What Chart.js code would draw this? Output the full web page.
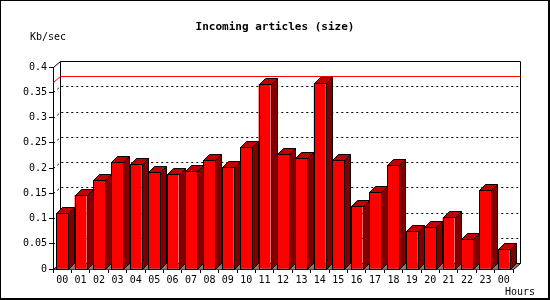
<!DOCTYPE html>
<html>
<head>
<meta charset="utf-8">
<script src="https://cdn.jsdelivr.net/npm/chart.js@4/dist/chart.umd.min.js"></script>
<style>
  body { margin: 0; background: #fff; }
  canvas { display: block; }
</style>
</head>
<body>
<canvas id="myChart" width="550" height="300"></canvas>
<script>
var ctx = document.getElementById('myChart').getContext('2d');

// data
var hours = ['00','01','02','03','04','05','06','07','08','09','10','11',
             '12','13','14','15','16','17','18','19','20','21','22','23','00'];
var kbPerSec = [0.110, 0.146, 0.176, 0.211, 0.208, 0.193, 0.188, 0.195, 0.216,
                0.201, 0.241, 0.366, 0.227, 0.219, 0.368, 0.215, 0.125, 0.152,
                0.205, 0.075, 0.083, 0.102, 0.059, 0.156, 0.039];
var maxLine = 0.37; // the red line along the back wall
var yMin = 0, yMax = 0.4, yStep = 0.05;

var titleText = 'Incoming articles (size)';
var yUnit = 'Kb/sec';
var xUnit = 'Hours';

var DX = 7, DY = 6;   // depth of the back wall
var BX = 6, BY = 6;   // depth of each bar
var mono = "'DejaVu Sans Mono', 'Liberation Mono', monospace";

function px(v) { return Math.round(v) + 0.5; }

var box3d = {
    id: 'box3d',
    beforeDatasetsDraw: function (chart) {
        var c = chart.ctx, a = chart.chartArea, y = chart.scales.y;
        var L = px(a.left), R = px(a.right), T = px(a.top), B = px(a.bottom);
        c.save();
        // floor
        c.fillStyle = '#808080';
        c.beginPath();
        c.moveTo(L, B); c.lineTo(L + DX, B - DY); c.lineTo(R + DX, B - DY); c.lineTo(R, B);
        c.closePath(); c.fill();

        c.strokeStyle = '#000';
        c.lineWidth = 1;
        // back wall + edges
        c.beginPath();
        c.moveTo(L + DX, B - DY); c.lineTo(L + DX, T - DY); c.lineTo(R + DX, T - DY);
        c.lineTo(R + DX, B - DY); c.lineTo(L + DX, B - DY);
        c.moveTo(L, T); c.lineTo(L + DX, T - DY);
        c.moveTo(L, B); c.lineTo(L + DX, B - DY);
        c.moveTo(R, B); c.lineTo(R + DX, B - DY);
        c.stroke();

        // dotted grid on the back wall
        c.setLineDash([2, 3]);
        y.ticks.forEach(function (t) {
            if (t.value <= yMin || t.value >= yMax) return;
            var p = px(y.getPixelForValue(t.value));
            c.beginPath();
            c.moveTo(L, p); c.lineTo(L + DX, p - DY); c.lineTo(R + DX, p - DY);
            c.stroke();
        });
        c.setLineDash([]);

        // max line
        var m = px(y.getPixelForValue(maxLine));
        c.strokeStyle = '#ff0000';
        c.beginPath();
        c.moveTo(L, m); c.lineTo(L + DX, m - DY); c.lineTo(R + DX, m - DY);
        c.stroke();
        c.restore();
    },
    afterDatasetsDraw: function (chart) {
        var c = chart.ctx;
        c.save();
        c.strokeStyle = '#000';
        c.lineWidth = 1;
        chart.getDatasetMeta(0).data.forEach(function (bar) {
            var l = px(bar.x - bar.width / 2), r = px(bar.x + bar.width / 2);
            var t = px(bar.y), b = px(bar.base);
            // side
            c.fillStyle = '#800000';
            c.beginPath();
            c.moveTo(r, t); c.lineTo(r + BX, t - BY); c.lineTo(r + BX, b - BY); c.lineTo(r, b);
            c.closePath(); c.fill(); c.stroke();
            // top
            c.fillStyle = '#c00000';
            c.beginPath();
            c.moveTo(l, t); c.lineTo(l + BX, t - BY); c.lineTo(r + BX, t - BY); c.lineTo(r, t);
            c.closePath(); c.fill(); c.stroke();
            // front outline
            c.strokeRect(l, t, r - l, b - t);
        });
        c.restore();
    },
    afterDraw: function (chart) {
        var c = chart.ctx, a = chart.chartArea;
        c.save();
        c.fillStyle = '#000';
        c.textBaseline = 'middle';
        c.font = 'bold 11px ' + mono;
        c.textAlign = 'center';
        c.fillText(titleText, chart.width / 2, 27);
        c.font = '10px ' + mono;
        c.textAlign = 'left';
        c.fillText(yUnit, 30, a.top - 30);
        c.fillText(xUnit, a.right - 8, a.bottom + 23);
        // frame
        c.fillRect(0, 0, chart.width, 1);
        c.fillRect(0, 0, 1, chart.height);
        c.fillRect(chart.width - 2, 0, 2, chart.height);
        c.fillRect(0, chart.height - 2, chart.width, 2);
        c.restore();
    }
};

var chart = new Chart(ctx, {
    type: 'bar',
    data: {
        labels: hours,
        datasets: [{
            label: 'Incoming articles',
            data: kbPerSec,
            backgroundColor: '#ff0000',
            borderWidth: 0,
            categoryPercentage: 0.65,
            barPercentage: 1
        }]
    },
    options: {
        responsive: false,
        animation: false,
        layout: { padding: { top: 67, right: 37, left: 0, bottom: 0 } },
        plugins: {
            legend: { display: false },
            title: { display: false },
            tooltip: { enabled: false }
        },
        scales: {
            x: {
                offset: true,
                afterFit: function (s) { s.height = 31; },
                grid: { drawOnChartArea: false, tickLength: 4, color: '#000', offset: true },
                border: { color: '#000', width: 1 },
                ticks: { color: '#000', padding: 1, maxRotation: 0, autoSkip: false,
                         font: { family: mono, size: 10 } }
            },
            y: {
                min: yMin,
                max: yMax,
                afterFit: function (s) { s.width = 53; },
                grid: { drawOnChartArea: false, tickLength: 4, color: '#000' },
                border: { color: '#000', width: 1 },
                ticks: {
                    stepSize: yStep,
                    color: '#000',
                    padding: 2,
                    font: { family: mono, size: 10 },
                    callback: function (v) { return String(+v.toFixed(2)); }
                }
            }
        }
    },
    plugins: [box3d]
});
</script>
</body>
</html>
